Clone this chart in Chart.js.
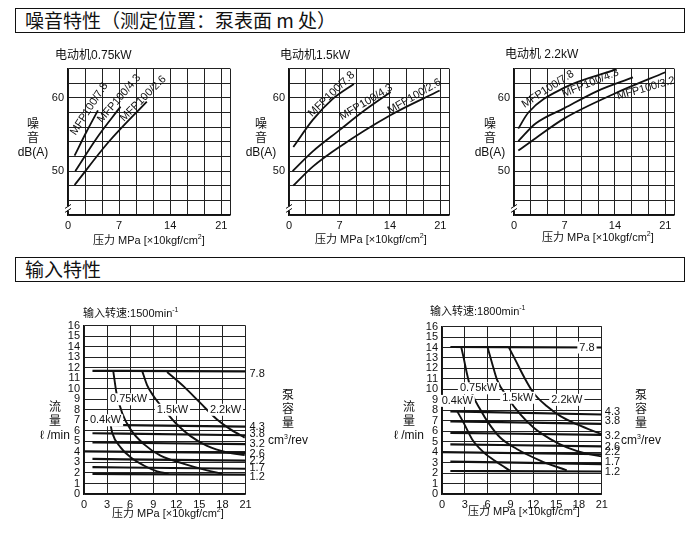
<!DOCTYPE html>
<html>
<head>
<meta charset="utf-8">
<script src="https://cdn.jsdelivr.net/npm/chart.js@4.4.1/dist/chart.umd.min.js"></script>
<style>
  body { margin: 0; width: 692px; height: 541px; background: #fff; position: relative; overflow: hidden;
         font-family: "Liberation Sans", "Noto Sans CJK SC", sans-serif; color: #111; }
  .hd { position: absolute; left: 15px; width: 670px; height: 25px; border: 1.5px solid #111; box-sizing: border-box;
        font-family: "Noto Sans CJK SC", sans-serif; font-size: 19px; line-height: 22px; padding-left: 9px; }
  .box { position: absolute; }
  .t { position: absolute; font-size: 12px; white-space: nowrap; line-height: 14px; }
  .s { font-size: 11px; }
  .v { position: absolute; width: 50px; text-align: center; font-size: 12px; line-height: 14px; }
  sup { font-size: 7px; }
</style>
</head>
<body>
<div class="hd" style="top:8px">噪音特性（测定位置：泵表面 m 处）</div>
<div class="hd" style="top:257px">输入特性</div>

<div class="t" style="left:55px;top:48px">电动机0.75kW</div>
<div class="t" style="left:280px;top:48px">电动机1.5kW</div>
<div class="t" style="left:505px;top:47px">电动机 2.2kW</div>
<div class="v" style="left:8px;top:117px">噪<br>音<br>dB(A)</div>
<div class="v" style="left:236px;top:117px">噪<br>音<br>dB(A)</div>
<div class="v" style="left:465px;top:117px">噪<br>音<br>dB(A)</div>
<div class="t s" style="left:93px;top:230px">压力 MPa [×10kgf/cm<sup>2</sup>]</div>
<div class="t s" style="left:315px;top:229px">压力 MPa [×10kgf/cm<sup>2</sup>]</div>
<div class="t s" style="left:542px;top:227px">压力 MPa [×10kgf/cm<sup>2</sup>]</div>

<div class="t s" style="left:83px;top:303px">输入转速:1500min<sup>-1</sup></div>
<div class="t s" style="left:430px;top:301px">输入转速:1800min<sup>-1</sup></div>
<div class="v" style="left:30px;top:400px">流<br>量<br>ℓ /min</div>
<div class="v" style="left:384px;top:400px">流<br>量<br>ℓ /min</div>
<div class="v" style="left:263px;top:388px">泵<br>容<br>量<br>cm<sup>3</sup>/rev</div>
<div class="v" style="left:616px;top:388px">泵<br>容<br>量<br>cm<sup>3</sup>/rev</div>
<div class="t s" style="left:112px;top:503px">压力 MPa [×10kgf/cm<sup>2</sup>]</div>
<div class="t s" style="left:468px;top:501px">压力 MPa [×10kgf/cm<sup>2</sup>]</div>

<script>
// ---------- NOISE DATA (pressure MPa -> dB(A)) ----------
const noiseXLabels = [0, 7, 14, 21];
const noiseYLabels = [50, 60];

const n075Names = ["MFP100/7.8", "MFP100/4.3", "MFP100/2.6"];
const n075Press = [[0.9, 2.5, 4.1], [1.0, 4.0, 7.2], [0.9, 5.5, 10.8]];
const n075Noise = [[52.1, 55.3, 58.3], [50.0, 54.6, 58.8], [48.1, 53.9, 59.5]];

const n15Names = ["MFP100/7.8", "MFP100/4.3", "MFP100/2.6"];
const n15Press = [[0.6, 3.3, 6.0, 9.0], [0.5, 3.3, 7.0, 10.5, 14.1], [0.6, 3.3, 7.0, 14.0, 20.9]];
const n15Noise = [[53.3, 57.0, 59.8, 61.9], [50.0, 52.7, 55.6, 58.3, 60.8], [48.0, 50.6, 53.3, 57.6, 61.0]];

const n22Names = ["MFP100/7.8", "MFP100/4.3", "MFP100/3.2"];
const n22Press = [[0.6, 2.0, 7.0, 14.2], [0.6, 3.0, 7.0, 11.7, 16.5], [0.6, 3.0, 7.0, 14.0, 21.0]];
const n22Noise = [[55.8, 58.0, 61.4, 63.9], [54.1, 56.5, 58.6, 61.0, 62.8], [52.8, 54.5, 57.2, 60.6, 63.5]];

// ---------- INPUT DATA (pressure MPa -> flow l/min) ----------
const flowXLabels = [0, 3, 6, 9, 12, 15, 18, 21];
const flowYLabels = [0, 1, 2, 3, 4, 5, 6, 7, 8, 9, 10, 11, 12, 13, 14, 15, 16];
const dispNames = ["7.8", "4.3", "3.8", "3.2", "2.6", "2.2", "1.7", "1.2"];
const powerNames = ["0.4kW", "0.75kW", "1.5kW", "2.2kW"];

// 1500 min-1
const d1500PFrom = [1.1, 1.1, 1.1, 1.1, 0, 1.1, 1.1, 1.1];
const d1500QFrom = [11.7, 6.58, 5.77, 4.9, 4.05, 3.33, 2.55, 1.9];
const d1500QTo = [11.65, 6.4, 5.58, 4.74, 3.9, 3.18, 2.4, 1.84];
const pw1500Press = [
  [3.45, 3.66, 4.75, 6.05, 7.78, 9.5, 11.0],
  [3.8, 4.23, 4.96, 6.05, 7.78, 9.95, 13.0, 16.0, 18.0],
  [7.56, 8.2, 9.08, 10.6, 12.1, 13.85, 16.0, 18.6, 20.9],
  [10.8, 13.0, 15.15, 17.3, 19.05, 20.9]
];
const pw1500Flow = [
  [6.6, 5.83, 4.43, 3.49, 2.71, 2.15, 1.93],
  [11.7, 9.57, 7.7, 6.14, 4.74, 3.65, 2.87, 2.25, 1.93],
  [11.7, 10.35, 9.26, 7.86, 6.6, 5.5, 4.58, 3.96, 3.71],
  [11.6, 10.2, 8.63, 7.08, 6.14, 5.36]
];

// 1800 min-1
const d1800PFrom = [1.1, 1.1, 1.1, 1.1, 1.1, 0, 1.1, 1.1];
const d1800QFrom = [14.05, 7.9, 6.95, 5.85, 4.75, 4.0, 3.1, 2.2];
const d1800QTo = [14.0, 7.6, 6.7, 5.65, 4.55, 3.8, 2.85, 2.15];
const pw1800Press = [
  [2.0, 2.85, 3.95, 5.48, 7.24, 9.0],
  [2.54, 2.85, 3.28, 3.95, 5.05, 6.1, 7.64, 9.83, 12.9, 16.4],
  [6.0, 6.6, 7.24, 8.55, 10.3, 12.06, 14.25, 16.4, 19.1, 21.0],
  [8.8, 9.67, 10.77, 12.06, 13.8, 15.56, 17.76, 21.0]
];
const pw1800Flow = [
  [7.9, 6.8, 5.24, 3.98, 3.04, 2.2],
  [14.0, 13.0, 11.5, 9.63, 8.06, 6.8, 5.4, 4.3, 3.2, 2.25],
  [14.0, 12.45, 10.9, 9.3, 7.6, 6.33, 5.24, 4.45, 3.83, 3.6],
  [14.0, 12.77, 11.2, 9.63, 8.38, 7.44, 6.65, 5.71]
];

const FONT = "'Liberation Sans', Arial, sans-serif";

// ---------- PLUGINS ----------
const notesPlugin = {
  id: "notes",
  afterDatasetsDraw(chart, args, opts) {
    const ctx = chart.ctx, xs = chart.scales.x, ys = chart.scales.y, ca = chart.chartArea;
    (opts.items || []).forEach(n => {
      const px = n.dx != null ? ca.right + n.dx : xs.getPixelForValue(n.x);
      const py = ys.getPixelForValue(n.y);
      ctx.save();
      ctx.translate(px, py);
      if (n.rot) ctx.rotate(-n.rot * Math.PI / 180);
      ctx.font = (n.size || 11) + "px " + FONT;
      ctx.textAlign = n.align || "center";
      ctx.textBaseline = "middle";
      if (n.bg) {
        const w = ctx.measureText(n.text).width;
        ctx.fillStyle = "#fff";
        ctx.fillRect(-w / 2 - 2, -6, w + 4, 12);
      }
      ctx.fillStyle = "#111";
      ctx.fillText(n.text, 0, 0);
      ctx.restore();
    });
    if (opts.breakAt != null) {
      const y = ys.getPixelForValue(opts.breakAt), x = ca.left;
      ctx.save();
      ctx.fillStyle = "#fff";
      ctx.fillRect(x - 3, y - 2, 6, 4);
      ctx.strokeStyle = "#111";
      ctx.lineWidth = 1;
      ctx.beginPath();
      ctx.moveTo(x - 3, y); ctx.lineTo(x + 3, y - 4);
      ctx.moveTo(x - 3, y + 4); ctx.lineTo(x + 3, y);
      ctx.stroke();
      ctx.restore();
    }
  }
};

// ---------- HELPERS ----------
function mount(id, L, T, R, B, pad) {
  const box = document.createElement("div");
  box.className = "box";
  box.style.left = (L - pad.l) + "px";
  box.style.top = (T - pad.t) + "px";
  box.style.width = (pad.l + R - L + pad.r) + "px";
  box.style.height = (pad.t + B - T + pad.b) + "px";
  box.innerHTML = '<canvas id="' + id + '"></canvas>';
  document.body.insertBefore(box, document.body.firstChild);
  return document.getElementById(id);
}

function curve(xs, ys, width) {
  return {
    data: xs.map((x, i) => ({ x: x, y: ys[i] })),
    borderColor: "#111", borderWidth: width, pointRadius: 0,
    cubicInterpolationMode: "monotone", fill: false
  };
}

function axis(min, max, grid, labels, pad, isX, lblPad) {
  return {
    type: "linear", min: min, max: max,
    afterBuildTicks: s => { s.ticks = grid.map(v => ({ value: v })); },
    afterFit: s => { if (isX) s.height = pad.b; else s.width = pad.l; },
    ticks: {
      autoSkip: false, maxRotation: 0, padding: lblPad, color: "#111",
      font: { family: FONT, size: 11 },
      callback: v => labels.some(l => Math.abs(l - v) < 1e-6) ? String(labels.find(l => Math.abs(l - v) < 1e-6)) : ""
    },
    grid: { color: "#222", lineWidth: 1, drawTicks: false },
    border: { color: "#111", width: 1.4 }
  };
}

function makeChart(id, rect, pad, xMin, xMax, xGrid, xLabels, yMin, yMax, yGrid, yLabels, datasets, notes) {
  const cv = mount(id, rect[0], rect[1], rect[2], rect[3], pad);
  new Chart(cv, {
    type: "line",
    data: { datasets: datasets },
    options: {
      responsive: true, maintainAspectRatio: false, animation: false,
      layout: { padding: { left: 0, top: pad.t, right: pad.r, bottom: 0 } },
      plugins: { legend: { display: false }, tooltip: { enabled: false }, notes: notes },
      scales: {
        x: axis(xMin, xMax, xGrid, xLabels, pad, true, 4),
        y: axis(yMin, yMax, yGrid, yLabels, pad, false, 4)
      }
    },
    plugins: [notesPlugin]
  });
}

// ---------- NOISE CHARTS ----------
const noiseXGrid = [];
for (let i = 0; i <= 9; i++) noiseXGrid.push(i * 7 / 3);
noiseXGrid.push(22.2);
const noiseYGrid = [];
for (let v = 44; v <= 64; v += 2) noiseYGrid.push(v);
const padTop = { l: 40, t: 10, r: 10, b: 20 };

makeChart("n075", [68, 67.5, 230, 214.5], padTop, 0, 22.2, noiseXGrid, noiseXLabels, 44, 64, noiseYGrid, noiseYLabels,
  n075Names.map((n, i) => curve(n075Press[i], n075Noise[i], 1.8)),
  { breakAt: 44.9, items: [
    { text: n075Names[0], x: 2.9, y: 58.5, rot: 57 },
    { text: n075Names[1], x: 7.0, y: 59.9, rot: 49 },
    { text: n075Names[2], x: 10.3, y: 59.9, rot: 45 }
  ] });

makeChart("n15", [289, 67.5, 449, 214.5], padTop, 0, 22.2, noiseXGrid, noiseXLabels, 44, 64, noiseYGrid, noiseYLabels,
  n15Names.map((n, i) => curve(n15Press[i], n15Noise[i], 1.8)),
  { breakAt: 44.9, items: [
    { text: n15Names[0], x: 5.9, y: 60.5, rot: 44 },
    { text: n15Names[1], x: 10.7, y: 59.4, rot: 31 },
    { text: n15Names[2], x: 17.4, y: 60.2, rot: 30 }
  ] });

makeChart("n22", [514, 67.5, 674, 214.5], padTop, 0, 22.2, noiseXGrid, noiseXLabels, 44, 64, noiseYGrid, noiseYLabels,
  n22Names.map((n, i) => curve(n22Press[i], n22Noise[i], 1.8)),
  { breakAt: 44.9, items: [
    { text: n22Names[0], x: 4.7, y: 61.2, rot: 33 },
    { text: n22Names[1], x: 10.6, y: 62.0, rot: 22 },
    { text: n22Names[2], x: 18.3, y: 61.3, rot: 16 }
  ] });

// ---------- INPUT CHARTS ----------
const flowXGrid = flowXLabels.slice();
const flowYGrid = flowYLabels.slice();
const padBot = { l: 30, t: 8, r: 30, b: 18 };

function flowSets(pFrom, qFrom, qTo, pwP, pwQ) {
  const sets = dispNames.map((d, i) => curve([pFrom[i], 21], [qFrom[i], qTo[i]], 2.2));
  return sets.concat(powerNames.map((n, i) => curve(pwP[i], pwQ[i], 1.9)));
}

const lab1500Q = [11.4, 6.36, 5.67, 4.8, 3.8, 3.18, 2.5, 1.62];
makeChart("f1500", [83.5, 323, 245, 494], padBot, 0, 21, flowXGrid, flowXLabels, 0, 16, flowYGrid, flowYLabels,
  flowSets(d1500PFrom, d1500QFrom, d1500QTo, pw1500Press, pw1500Flow),
  { items: [
    { text: powerNames[0], x: 2.8, y: 7.0, bg: true },
    { text: powerNames[1], x: 5.8, y: 9.0, bg: true },
    { text: powerNames[2], x: 11.5, y: 8.0, bg: true },
    { text: powerNames[3], x: 18.4, y: 8.0, bg: true }
  ].concat(dispNames.map((d, i) => ({ text: d, dx: 4, y: lab1500Q[i], align: "left" }))) });

const lab1800Q = [14.0, 7.8, 6.96, 5.55, 4.52, 3.98, 3.04, 2.1];
makeChart("f1800", [441.7, 324, 601.5, 494], padBot, 0, 21, flowXGrid, flowXLabels, 0, 16, flowYGrid, flowYLabels,
  flowSets(d1800PFrom, d1800QFrom, d1800QTo, pw1800Press, pw1800Flow),
  { items: [
    { text: powerNames[0], x: 2.0, y: 8.9, bg: true },
    { text: powerNames[1], x: 4.8, y: 10.1, bg: true },
    { text: powerNames[2], x: 9.95, y: 9.2, bg: true },
    { text: powerNames[3], x: 16.4, y: 9.0, bg: true },
    { text: dispNames[0], x: 19.05, y: lab1800Q[0], bg: true }
  ].concat(dispNames.slice(1).map((d, i) => ({ text: d, dx: 3, y: lab1800Q[i + 1], align: "left" }))) });
</script>
</body>
</html>
